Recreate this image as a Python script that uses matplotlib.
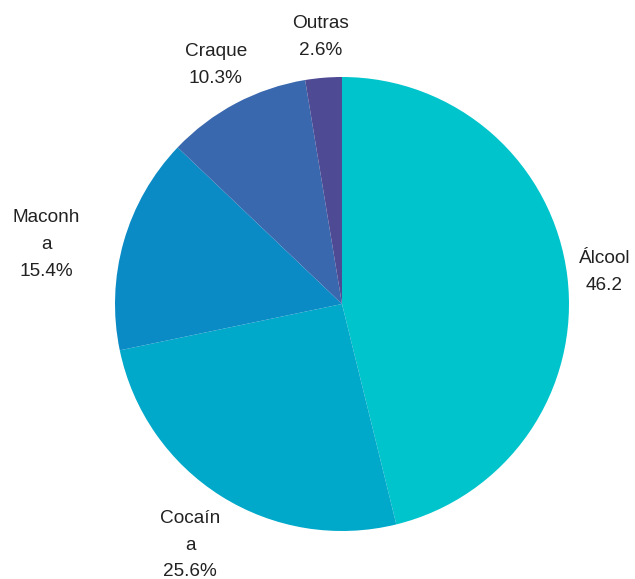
import numpy as np
import matplotlib.pyplot as plt

# Data
labels = ['Álcool\n46.2', 'Cocaín\na\n25.6%', 'Maconh\na\n15.4%', 'Craque\n10.3%', 'Outras\n2.6%']
values = [46.2, 25.6, 15.4, 10.3, 2.6]
colors = ['#00C4CC', '#00A9C9', '#0A8BC6', '#3A68AF', '#4E4A94']

plt.rcParams['font.family'] = ['Liberation Sans', 'DejaVu Sans']

fig = plt.figure(figsize=(6.35, 5.79), dpi=100)
cx, cy, r = 342, 304, 227
ax = fig.add_axes([(cx - r) / 635, (579 - cy - r) / 579, 2 * r / 635, 2 * r / 579])

wedges, _ = ax.pie(values, colors=colors, startangle=90, counterclock=False,
                   radius=1, wedgeprops=dict(linewidth=0))

# label placement: distance from center (in radii) and angle tweak per slice
label_dist = [1.165, 1.255, 1.33, 1.19, 1.18]
label_turn = [0, 0, 4.5, 0, 0]
for w, lab, d, t in zip(wedges, labels, label_dist, label_turn):
    ang = np.deg2rad((w.theta1 + w.theta2) / 2 + t)
    ax.text(d * np.cos(ang), d * np.sin(ang), lab, ha='center', va='center',
            multialignment='center', fontsize=13.7, color='#222222', linespacing=1.75)

ax.set_xlim(-1, 1)
ax.set_ylim(-1, 1)
ax.set_aspect('equal')
ax.axis('off')

fig.savefig('out.png', dpi=100)
